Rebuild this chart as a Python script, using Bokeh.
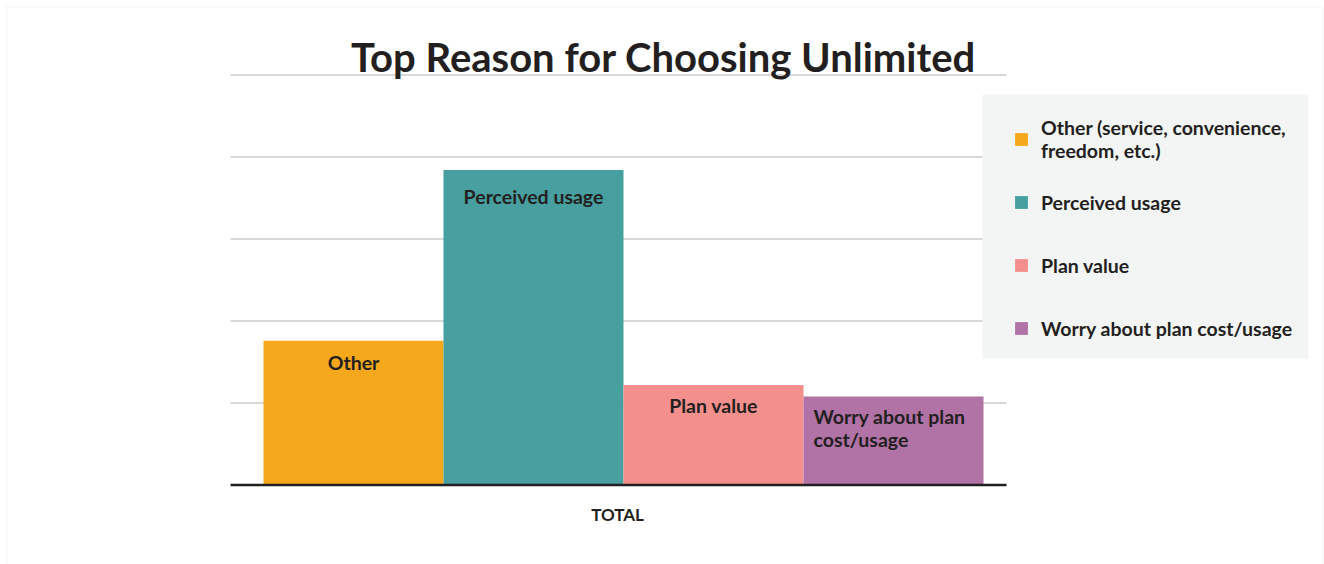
from bokeh.plotting import figure
from bokeh.models import (Range1d, Legend, LegendItem, ColumnDataSource,
                          BoxAnnotation, Label)
from bokeh.core.properties import value
from bokeh.embed import file_html
from bokeh.resources import INLINE

# ---- data ----
categories = ["Other", "Perceived usage", "Plan value", "Worry about plan cost/usage"]
legend_labels = ["Other (service, convenience,\nfreedom, etc.)", "Perceived usage",
                 "Plan value", "Worry about plan cost/usage"]
bar_labels = ["Other", "Perceived usage", "Plan value", "Worry about plan\ncost/usage"]
values = [17.6, 38.4, 12.2, 10.8]
colors = ["#F5A81C", "#479FA0", "#F38F8C", "#B172A6"]
group_label = "TOTAL"
y_ticks = [10, 20, 30, 40, 50]
title_text = "Top Reason for Choosing Unlimited"

FONT = "Lato"
DARK = "#231F20"
W, H = 1324, 564

p = figure(width=W, height=H, output_backend="svg", toolbar_location=None,
           x_range=Range1d(-1.9611, 5.3944), y_range=Range1d(-9.695, 59.085),
           x_axis_location=None, y_axis_location=None, min_border=0,
           outline_line_color=None, background_fill_color="white",
           border_fill_color="white")
p.grid.visible = False

xs = list(range(len(categories)))
x_lo, x_hi = -0.683, 3.628   # plot-area extent in data units

# grid lines (horizontal, only across plot area)
p.segment(x0=[x_lo] * len(y_ticks), x1=[x_hi] * len(y_ticks), y0=y_ticks, y1=y_ticks,
          line_color="#D9D9D9", line_width=2)

renderers = []
for i in range(len(categories)):
    r = p.vbar(x=[xs[i]], top=[values[i]], width=1.0, bottom=0,
               fill_color=colors[i], line_color=None)
    renderers.append(r)

# baseline
p.segment(x0=[x_lo], x1=[x_hi], y0=[0], y1=[0], line_color=DARK, line_width=2.5)

# category label under the group
p.text(x=[sum(xs) / len(xs)], y=[0], text=[group_label], x_offset=-6, y_offset=29,
       text_align="center", text_baseline="middle", text_font=value(FONT),
       text_font_style="bold", text_font_size="17px", text_color=DARK)

# bar labels
lab_align = ["center", "center", "center", "left"]
lab_xoff = [0, 0, 0, -80]
lab_yoff = [10, 15, 9, 9]
lsrc = ColumnDataSource(dict(x=xs, y=values, text=bar_labels, align=lab_align,
                             xo=lab_xoff, yo=lab_yoff))
p.text(x="x", y="y", text="text", source=lsrc, text_align="align", x_offset="xo",
       y_offset="yo", text_baseline="top", text_font=value(FONT),
       text_font_style="bold", text_font_size="19.5px", text_color=DARK,
       text_line_height=1.0)

# legend background box
box = BoxAnnotation(left=982, right=1308, top=H - 94, bottom=H - 358,
                    left_units="screen", right_units="screen",
                    top_units="screen", bottom_units="screen",
                    fill_color="#F3F5F4", fill_alpha=1, line_color=None, level="guide")
p.add_layout(box)

legend = Legend(items=[LegendItem(label=legend_labels[i], renderers=[renderers[i]])
                       for i in range(len(categories))],
                location=(1013, 212), glyph_width=16, glyph_height=16,
                label_standoff=12, spacing=15, label_height=48, padding=0,
                background_fill_alpha=0, border_line_color=None,
                label_text_font=FONT, label_text_font_style="bold",
                label_text_font_size="19.5px", label_text_color=DARK,
                label_text_line_height=1.0)
p.add_layout(legend, "center")

title = Label(x=663, y=H - 56, x_units="screen", y_units="screen", text=title_text,
              text_font=FONT, text_font_style="bold", text_font_size="40px",
              text_color=DARK, text_align="center", text_baseline="alphabetic")
p.add_layout(title)

border = BoxAnnotation(left=6, right=1322, top=H - 6, bottom=-20,
                       left_units="screen", right_units="screen",
                       top_units="screen", bottom_units="screen",
                       fill_alpha=0, line_color="#EBEBEB", line_width=2)
p.add_layout(border)

open("out.html", "w").write(file_html(p, INLINE))
